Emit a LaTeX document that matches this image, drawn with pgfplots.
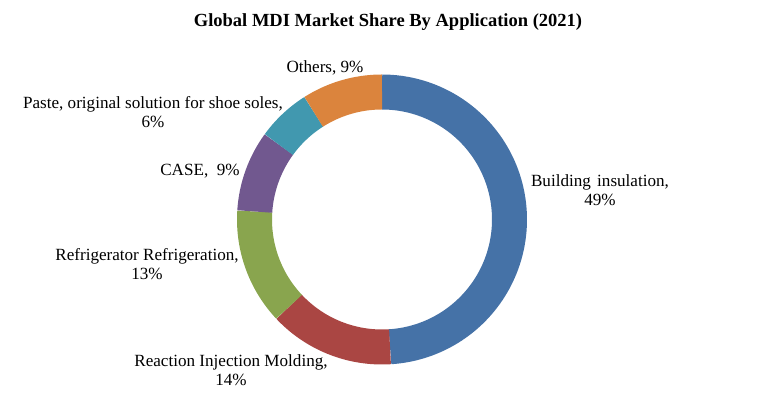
\documentclass[border=0pt]{standalone}
\usepackage{fontspec}
\setmainfont{Liberation Serif}
\usepackage{pgfplots}
\pgfplotsset{compat=1.18}
\definecolor{cBlue}{HTML}{4572A7}
\definecolor{cRed}{HTML}{AA4643}
\definecolor{cGreen}{HTML}{89A54E}
\definecolor{cPurple}{HTML}{71588F}
\definecolor{cTeal}{HTML}{4198AF}
\definecolor{cOrange}{HTML}{DB843D}
\begin{document}
\begin{tikzpicture}
% shares (%), clockwise from the top
\def\vA{49}% Building insulation
\def\vB{14}% Reaction Injection Molding
\def\vC{13}% Refrigerator Refrigeration
\def\vD{9}%  CASE
\def\vE{6}%  Paste
\def\vF{9}%  Others
\pgfmathsetmacro\aA{90}
\pgfmathsetmacro\aB{\aA-3.6*\vA}
\pgfmathsetmacro\aC{\aB-3.6*\vB}
\pgfmathsetmacro\aD{\aC-3.6*\vC}
\pgfmathsetmacro\aE{\aD-3.6*\vD}
\pgfmathsetmacro\aF{\aE-3.6*\vE}
\pgfmathsetmacro\aG{\aF-3.6*\vF}
\begin{axis}[
  scale only axis, width=781pt, height=395pt,
  xmin=0, xmax=781, ymin=0, ymax=395,
  hide axis, clip=false,
]
\path (axis cs:0,0) rectangle (axis cs:781,395);
\addplot[draw=cBlue,   line width=35pt, domain=\aB:\aA, samples=120, variable=\t] ({382+127.5*cos(\t)}, {175.5+127.5*sin(\t)});
\addplot[draw=cRed,    line width=35pt, domain=\aC:\aB, samples=40, variable=\t] ({382+127.5*cos(\t)}, {175.5+127.5*sin(\t)});
\addplot[draw=cGreen,  line width=35pt, domain=\aD:\aC, samples=40, variable=\t] ({382+127.5*cos(\t)}, {175.5+127.5*sin(\t)});
\addplot[draw=cPurple, line width=35pt, domain=\aE:\aD, samples=30, variable=\t] ({382+127.5*cos(\t)}, {175.5+127.5*sin(\t)});
\addplot[draw=cTeal,   line width=35pt, domain=\aF:\aE, samples=30, variable=\t] ({382+127.5*cos(\t)}, {175.5+127.5*sin(\t)});
\addplot[draw=cOrange, line width=35pt, domain=\aG:\aF, samples=30, variable=\t] ({382+127.5*cos(\t)}, {175.5+127.5*sin(\t)});
\tikzset{lbl/.style={align=center, font=\fontsize{17.1}{19.5}\selectfont, inner sep=0pt}}
\node[font=\fontsize{18.5}{21}\selectfont\bfseries, inner sep=0pt] at (axis cs:388,373) {Global MDI Market Share By Application (2021)};
\node[lbl] at (axis cs:600,205) {Building\ \hspace{2pt}insulation,\\49\%};
\node[lbl] at (axis cs:231,25) {Reaction Injection Molding,\\14\%};
\node[lbl] at (axis cs:147,131) {Refrigerator Refrigeration,\\13\%};
\node[lbl] at (axis cs:200,224) {CASE,\ \ 9\%};
\node[lbl] at (axis cs:153,283) {Paste, original solution for shoe soles,\\6\%};
\node[lbl] at (axis cs:325,327) {Others, 9\%};
\end{axis}
\end{tikzpicture}
\end{document}
